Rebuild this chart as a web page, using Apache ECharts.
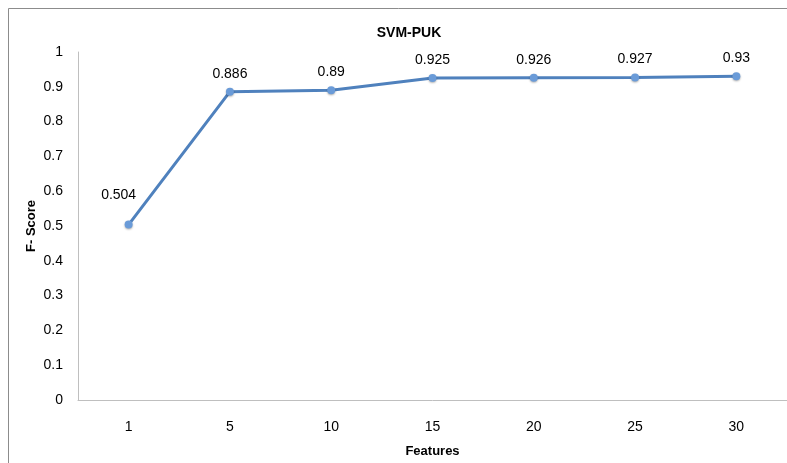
<!DOCTYPE html>
<html><head><meta charset="utf-8">
<script src="https://cdn.jsdelivr.net/npm/echarts@6/dist/echarts.min.js"></script>
<style>html,body{margin:0;padding:0;background:#fff}#c{width:787px;height:463px}</style>
</head><body><div id="c"></div>
<script>
const categories = ['1','5','10','15','20','25','30'];
const fScores = [0.504, 0.886, 0.89, 0.925, 0.926, 0.927, 0.93];
const titleText = 'SVM-PUK';
const xName = 'Features';
const yName = 'F- Score';

const chart = echarts.init(document.getElementById('c'), null, {renderer:'canvas'});
const font = 'Liberation Sans, Arial, sans-serif';
chart.setOption({
  animation:false,
  backgroundColor:'#fff',
  graphic:[{type:'rect', shape:{x:8.5,y:8.5,width:900,height:600}, style:{fill:'none', stroke:'#8c8c8c', lineWidth:1}, silent:true}],
  title:{text:titleText, left:404, top:21, textAlign:'center',
    textStyle:{fontFamily:font, fontSize:14, fontWeight:'bold', color:'#000'}},
  grid:{left:78, top:52, width:711, height:352, containLabel:false},
  xAxis:{type:'category', data:categories, boundaryGap:true,
    name:xName, nameLocation:'middle', nameGap:45, nameMoveOverlap:false,
    nameTextStyle:{fontFamily:font, fontSize:13, fontWeight:'bold', color:'#000'},
    axisLine:{lineStyle:{color:'#bfbfbf', width:1}}, axisTick:{show:false},
    axisLabel:{fontFamily:font, fontSize:14, color:'#000', margin:20}},
  yAxis:{type:'value', min:0, max:1, interval:0.1,
    name:yName, nameLocation:'middle', nameGap:40, nameRotate:90, nameMoveOverlap:false,
    nameTextStyle:{fontFamily:font, fontSize:13, fontWeight:'bold', color:'#000'},
    axisLine:{show:true, lineStyle:{color:'#bfbfbf', width:1}}, axisTick:{show:false},
    splitLine:{show:false},
    axisLabel:{fontFamily:font, fontSize:14, color:'#000', margin:15,
      formatter:v=>String(Math.round(v*10)/10)}},
  series:[{type:'line', data:fScores.map((v,i)=> i===0 ? {value:v, label:{offset:[-10,-11]}} : v),
    lineStyle:{color:'#4f81bd', width:3},
    symbol:'circle', symbolSize:8,
    itemStyle:{color:'#6a9bd8', shadowColor:'rgba(0,0,0,0.3)', shadowBlur:2, shadowOffsetY:1},
    label:{show:true, position:'top', distance:7, fontFamily:font, fontSize:14, color:'#000',
      formatter:p=>String(p.value)}}]
});
</script></body></html>
